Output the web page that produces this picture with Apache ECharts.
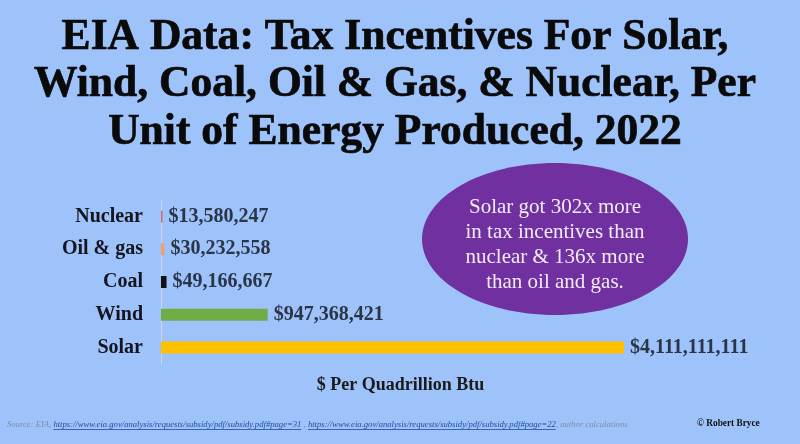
<!DOCTYPE html>
<html>
<head>
<meta charset="utf-8">
<script src="https://cdn.jsdelivr.net/npm/echarts@6/dist/echarts.min.js"></script>
<style>
html,body{margin:0;padding:0;background:#9EC3FA;}
#chart{width:800px;height:444px;}
</style>
</head>
<body>
<div id="chart"></div>
<script>
const categories = ['Nuclear', 'Oil & gas', 'Coal', 'Wind', 'Solar'];
const values = [13580247, 30232558, 49166667, 947368421, 4111111111];
const titleLines = [
  'EIA Data: Tax Incentives For Solar,',
  'Wind, Coal, Oil & Gas, & Nuclear, Per',
  'Unit of Energy Produced, 2022'
];
const calloutLines = [
  'Solar got 302x more',
  'in tax incentives than',
  'nuclear & 136x more',
  'than oil and gas.'
];
const axisTitle = '$ Per Quadrillion Btu';
const sourcePrefix = 'Source: EIA, ';
const link1 = 'https://www.eia.gov/analysis/requests/subsidy/pdf/subsidy.pdf#page=31';
const sep = ' , ';
const link2 = 'https://www.eia.gov/analysis/requests/subsidy/pdf/subsidy.pdf#page=22';
const sourceSuffix = ', author calculations';
const credit = '\u00A9 Robert Bryce';

const barColors = ['#E06464', '#F0A070', '#111111', '#70AD47', '#FFC000'];

const serif = '"Liberation Serif", "Times New Roman", serif';
const cv = document.createElement('canvas').getContext('2d');
function measure(text, font) { cv.font = font; return cv.measureText(text).width; }

const titleFont = 'bold 45px ' + serif;
const titleScale = 722 / measure(titleLines[1], titleFont);

const fullSource = sourcePrefix + link1 + sep + link2 + sourceSuffix;
const srcSize = 9 * 621 / measure(fullSource, 'italic 9px ' + serif);
const srcFont = 'italic ' + srcSize.toFixed(2) + 'px ' + serif;
const srcX = 7, srcY = 425;
const w0 = measure(sourcePrefix, srcFont);
const w1 = measure(link1, srcFont);
const w2 = measure(sep, srcFont);
const w3 = measure(link2, srcFont);

const graphics = [];
titleLines.forEach((t, i) => {
  graphics.push({
    type: 'text', x: 395, y: 37 + i * 47.5, scaleX: titleScale, silent: true,
    style: { text: t, x: 0, y: 0, align: 'center', verticalAlign: 'middle',
      font: titleFont, fill: '#0a0a0a', stroke: '#0a0a0a', lineWidth: 0.7 }
  });
});
graphics.push({
  type: 'ellipse', silent: true,
  shape: { cx: 555, cy: 239, rx: 133, ry: 76 },
  style: { fill: '#7030A0' }
});
graphics.push({
  type: 'text', x: 555, y: 245, silent: true,
  style: { text: calloutLines.join('\n'), align: 'center', verticalAlign: 'middle',
    font: '21px ' + serif, lineHeight: 25, fill: '#F3ECF8' }
});
graphics.push({
  type: 'text', x: srcX, y: srcY, silent: true,
  style: {
    text: '{g|' + sourcePrefix + '}{l|' + link1 + '}{g|' + sep + '}{l|' + link2 + '}{g|' + sourceSuffix + '}',
    verticalAlign: 'middle',
    rich: {
      g: { font: srcFont, fill: '#808DA8' },
      l: { font: srcFont, fill: '#1F4E9C' }
    }
  }
});
graphics.push({ type: 'line', silent: true,
  shape: { x1: srcX + w0, y1: srcY + 4.5, x2: srcX + w0 + w1, y2: srcY + 4.5 },
  style: { stroke: '#1F4E9C', lineWidth: 0.8 } });
graphics.push({ type: 'line', silent: true,
  shape: { x1: srcX + w0 + w1 + w2, y1: srcY + 4.5, x2: srcX + w0 + w1 + w2 + w3, y2: srcY + 4.5 },
  style: { stroke: '#1F4E9C', lineWidth: 0.8 } });
graphics.push({
  type: 'text', x: 697, y: 424, silent: true,
  style: { text: credit, verticalAlign: 'middle', font: 'bold 9.3px ' + serif, fill: '#111' }
});

const chart = echarts.init(document.getElementById('chart'));
chart.setOption({
  backgroundColor: '#9EC3FA',
  animation: false,
  grid: { left: 161, top: 200, width: 463, height: 164, containLabel: false },
  xAxis: {
    type: 'value', min: 0, max: Math.max(...values),
    axisLine: { show: false }, axisTick: { show: false }, axisLabel: { show: false },
    splitLine: { show: false },
    name: axisTitle, nameLocation: 'middle', nameGap: 12,
    nameTextStyle: { fontFamily: serif, fontWeight: 'bold', fontSize: 18, color: '#1a1a1a', padding: [0, 0, 0, 16] }
  },
  yAxis: {
    type: 'category', data: categories, inverse: true,
    axisLine: { show: true, lineStyle: { color: '#C8D8F2', width: 1 } },
    axisTick: { show: false },
    axisLabel: { fontFamily: serif, fontWeight: 'bold', fontSize: 20, color: '#15151f', margin: 18 }
  },
  series: [{
    type: 'bar', barWidth: 12,
    data: values.map((v, i) => ({ value: v, itemStyle: { color: barColors[i] } })),
    label: {
      show: true, position: 'right', distance: 6,
      fontFamily: serif, fontWeight: 'bold', fontSize: 20, color: '#2B3548',
      formatter: p => '$' + p.value.toLocaleString('en-US')
    }
  }],
  graphic: graphics
});
</script>
</body>
</html>
